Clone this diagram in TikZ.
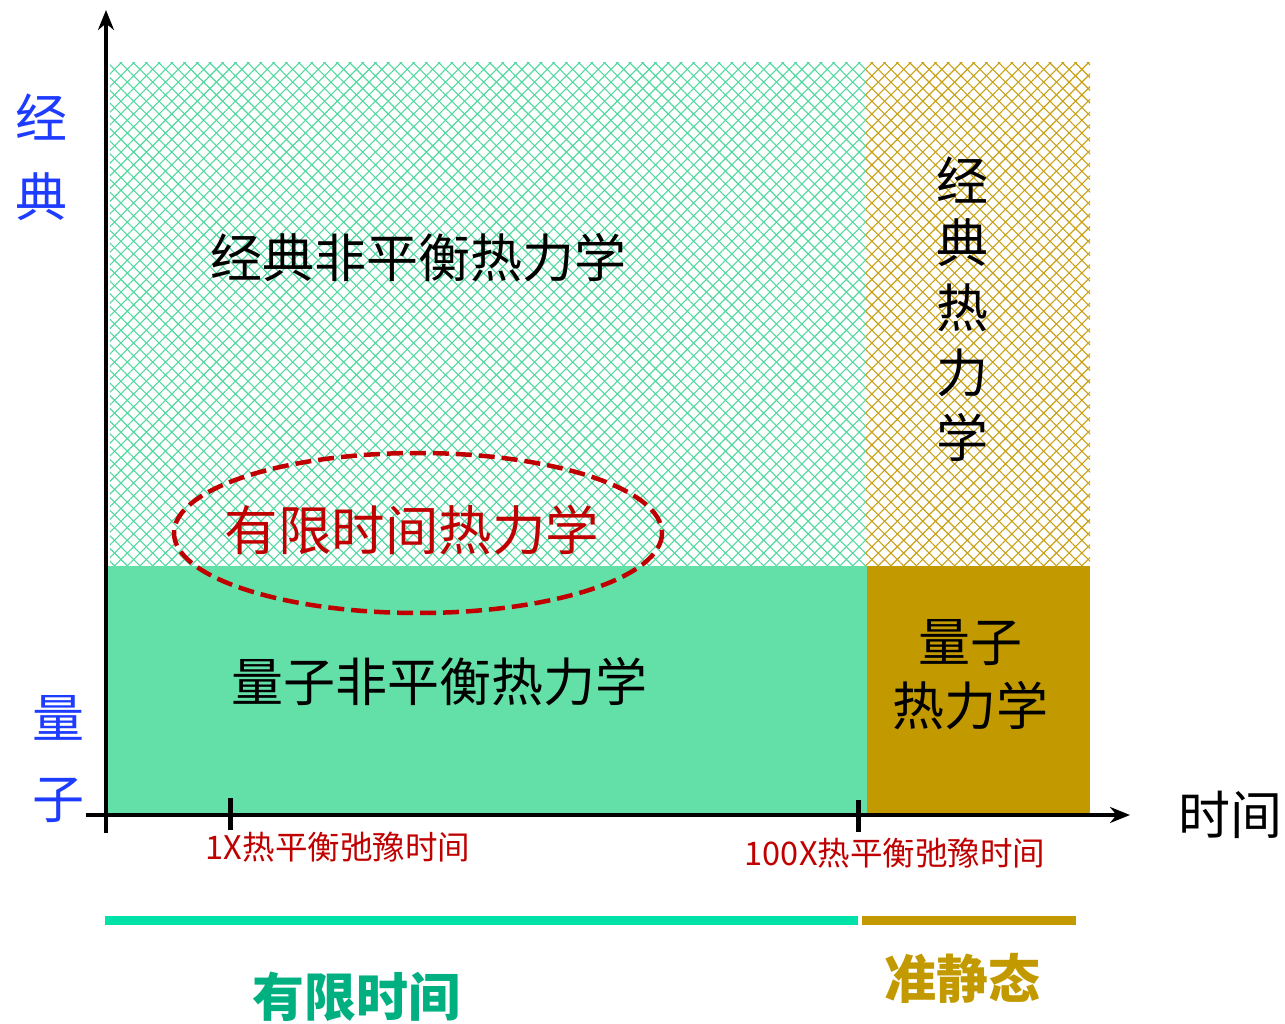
\documentclass[tikz,border=0pt]{standalone}
\usepackage{fontspec}
\setmainfont{Noto Sans CJK SC}
\usetikzlibrary{patterns.meta,arrows.meta}
\definecolor{qgreen}{RGB}{99,224,168}
\definecolor{qgold}{RGB}{194,154,0}
\definecolor{hgreen}{RGB}{80,216,160}
\definecolor{hgold}{RGB}{200,160,20}
\definecolor{dred}{RGB}{192,0,0}
\definecolor{ablue}{RGB}{30,60,255}
\definecolor{bargreen}{RGB}{0,226,168}
\definecolor{txtgreen}{RGB}{0,176,128}
\tikzset{
  big/.style={font=\fontsize{52}{60}\selectfont, inner sep=0pt},
  small/.style={font=\fontsize{32.5}{38}\selectfont, inner sep=0pt, text=dred},
  axis/.style={line width=4pt, -{Stealth[length=20pt,width=16pt]}},
  tick/.style={line width=5pt},
  bar/.style={line width=9pt},
  hatchA/.style={pattern={Lines[angle=45,distance=9pt,line width=1.1pt]}},
  hatchB/.style={pattern={Lines[angle=-45,distance=9pt,line width=1.1pt]}}
}
\begin{document}
\begin{tikzpicture}[x=1pt,y=-1pt]
\useasboundingbox (0,0) rectangle (1285,1024);
% hatched regions
\path[hatchA,pattern color=hgreen] (110,63) rectangle (866,566);
\path[hatchB,pattern color=hgreen] (110,63) rectangle (866,566);
\path[hatchA,pattern color=hgold] (866,63) rectangle (1090,566);
\path[hatchB,pattern color=hgold] (866,63) rectangle (1090,566);
% solid regions
\fill[qgreen] (108,566) rectangle (867,813);
\fill[qgold] (867,566) rectangle (1090,813);
% ellipse
\draw[dred, line width=4.5pt, dash pattern=on 16pt off 7pt] (418,533) ellipse [x radius=244, y radius=80];
% axes
\coordinate (o) at (106,833);
\coordinate (ytop) at (106,10);
\coordinate (xl) at (86,815);
\coordinate (xr) at (1130,815);
\draw[axis] (o) -- (ytop);
\draw[axis] (xl) -- (xr);
\coordinate (t1a) at (230,798); \coordinate (t1b) at (230,830);
\coordinate (t2a) at (858,800); \coordinate (t2b) at (858,832);
\draw[tick] (t1a) -- (t1b);
\draw[tick] (t2a) -- (t2b);
% texts
\node[big] (c1) at (418,258) {经典非平衡热力学};
\node[big, text=dred, font=\fontsize{53.5}{60}\selectfont] (c2) at (412,530) {有限时间热力学};
\node[big] (c3) at (439,682) {量子非平衡热力学};
\node[big] (v1) at (962,180) {经};
\node[big] (v2) at (962,243) {典};
\node[big] (v3) at (962,308) {热};
\node[big] (v4) at (962,373) {力};
\node[big] (v5) at (962,437) {学};
\node[big] (q1) at (970,643) {量子};
\node[big] (q2) at (970,706) {热力学};
\node[big, text=ablue] (l1) at (41,117) {经};
\node[big, text=ablue] (l2) at (41,197) {典};
\node[big, text=ablue] (l3) at (58,718) {量};
\node[big, text=ablue] (l4) at (58,800) {子};
\node[big] (time) at (1230,815) {时间};
\node[small] (s1) at (338,847) {1X热平衡弛豫时间};
\node[small] (s2) at (895,853) {100X热平衡弛豫时间};
% bars
\coordinate (b1a) at (105,920); \coordinate (b1b) at (858,920);
\coordinate (b2a) at (862,920); \coordinate (b2b) at (1076,920);
\draw[bar, bargreen] (b1a) -- (b1b);
\draw[bar, qgold] (b2a) -- (b2b);
\node[big, text=txtgreen, font=\fontsize{52}{60}\bfseries\selectfont] (f1) at (356,997) {有限时间};
\node[big, text=qgold, font=\fontsize{52}{60}\bfseries\selectfont] (f2) at (962,978) {准静态};
\end{tikzpicture}
\end{document}
